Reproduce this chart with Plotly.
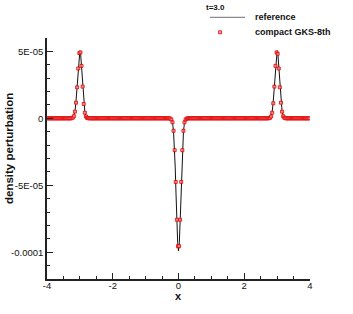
import numpy as np
import plotly.graph_objects as go

# ---------------- data ----------------
x_min, x_max = -4.0, 4.0
n_cells = 240                      # compact GKS grid (cell centres)
pulse_centres = [-3.0, 0.0, 3.0]

# compact GKS-8th values in the 16 cells around each pulse (left -> right)
gks_left_peak = [1e-7, 5e-7, 1.6e-6, 5.0e-6, 1.17e-5, 2.32e-5, 3.72e-5, 4.87e-5,
                 4.92e-5, 3.92e-5, 2.37e-5, 1.07e-5, 4.2e-6, 1.4e-6, 4e-7, 1e-7]
gks_centre_dip = [-2e-7, -9e-7, -3.0e-6, -9.3e-6, -2.38e-5, -4.75e-5, -7.57e-5, -9.55e-5,
                  -9.55e-5, -7.57e-5, -4.75e-5, -2.38e-5, -9.3e-6, -3.0e-6, -9e-7, -2e-7]
gks_right_peak = [1e-7, 4e-7, 1.4e-6, 4.2e-6, 1.12e-5, 2.37e-5, 3.92e-5, 4.92e-5,
                  4.82e-5, 3.72e-5, 2.32e-5, 1.17e-5, 5.0e-6, 1.6e-6, 5e-7, 1e-7]

# reference solution: offsets from each pulse centre and values there
ref_offsets = [-0.3, -0.25, -0.2, -0.175, -0.15, -0.125, -0.1, -0.075, -0.05, -0.025, 0.0,
               0.025, 0.05, 0.075, 0.1, 0.125, 0.15, 0.175, 0.2, 0.25, 0.3]
ref_peak = [0.0, 1e-7, 9e-7, 2.4e-6, 5.3e-6, 1.06e-5, 1.86e-5, 2.88e-5, 3.93e-5, 4.74e-5, 5.05e-5,
            4.74e-5, 3.93e-5, 2.88e-5, 1.86e-5, 1.06e-5, 5.3e-6, 2.4e-6, 9e-7, 1e-7, 0.0]
ref_dip = [0.0, -2e-7, -1.8e-6, -4.6e-6, -1.04e-5, -2.08e-5, -3.64e-5, -5.64e-5, -7.71e-5, -9.3e-5, -9.9e-5,
           -9.3e-5, -7.71e-5, -5.64e-5, -3.64e-5, -2.08e-5, -1.04e-5, -4.6e-6, -1.8e-6, -2e-7, 0.0]

y_tick_vals = [-1e-4, -5e-5, 0.0, 5e-5]
y_tick_text = ["-0.0001", "-5E-05", "0", "5E-05"]
x_tick_vals = [-4, -2, 0, 2, 4]
x_tick_text = ["-4", "-2", "0", "2", "4"]

legend_title = "t=3.0"
series_names = ["reference", "compact GKS-8th"]

# ---------------- assemble series ----------------
dx = (x_max - x_min) / n_cells
x_gks = x_min + dx * (np.arange(n_cells) + 0.5)
y_gks = np.zeros(n_cells)
for c, vals in zip(pulse_centres, [gks_left_peak, gks_centre_dip, gks_right_peak]):
    i_face = int(round((c - x_min) / dx))
    half = len(vals) // 2
    y_gks[i_face - half:i_face + half] = vals

x_ref = [x_min]
y_ref = [0.0]
for c, vals in zip(pulse_centres, [ref_peak, ref_dip, ref_peak]):
    x_ref += [c + o for o in ref_offsets]
    y_ref += list(vals)
x_ref.append(x_max)
y_ref.append(0.0)

FONT = "Liberation Sans, Arial, Helvetica, sans-serif"
W, H = 353, 314
# target plot area in window pixels: x 47..310, y 38..279
ML, MR, MT, MB = 47, W - 310, 38, H - 279
PW, PH = W - ML - MR, H - MT - MB


def px(xs):
    """window x pixel -> paper fraction"""
    return (xs - ML) / PW


def py(ys):
    """window y pixel -> paper fraction"""
    return (H - MB - ys) / PH


MARKER_FILL = "rgba(255,140,140,0.8)"
MARKER_EDGE = "#e00000"

fig = go.Figure()
fig.add_trace(go.Scatter(
    x=x_ref, y=y_ref, mode="lines", name=series_names[0],
    line=dict(color="#111111", width=1),
))
fig.add_trace(go.Scatter(
    x=x_gks, y=y_gks, mode="markers", name=series_names[1],
    marker=dict(symbol="square", size=3, color=MARKER_FILL,
                line=dict(color=MARKER_EDGE, width=0.8)),
))

axis_common = dict(
    showgrid=False, zeroline=False, showline=True, linecolor="#222222", linewidth=1.6,
    ticks="inside", ticklen=6, tickwidth=1.4, tickcolor="#222222",
    tickfont=dict(family=FONT, size=9.5, color="#111111"),
    mirror=False, automargin=False,
)

# legend drawn by hand (tight Tecplot-style spacing)
shapes = [
    dict(type="line", xref="paper", yref="paper", x0=px(210), x1=px(245), y0=py(17.3), y1=py(17.3),
         line=dict(color="#8a8a8a", width=1.2)),
    dict(type="rect", xref="paper", yref="paper", x0=px(218.6), x1=px(221.6), y0=py(30.8), y1=py(33.8),
         line=dict(color=MARKER_EDGE, width=0.8), fillcolor=MARKER_FILL),
]

annotations = [
    dict(text="<b>density perturbation</b>", textangle=-90, xref="paper", yref="paper",
         x=px(9), y=py(149), xanchor="center", yanchor="middle", showarrow=False,
         font=dict(family=FONT, size=11.5, color="#111111")),
    dict(text="<b>x</b>", xref="paper", yref="paper", x=0.5, y=py(296),
         xanchor="center", yanchor="middle", showarrow=False,
         font=dict(family=FONT, size=11, color="#111111")),
    dict(text="<b>" + legend_title + "</b>", xref="paper", yref="paper", x=px(204), y=py(7),
         xanchor="left", yanchor="middle", showarrow=False,
         font=dict(family=FONT, size=8, color="#111111")),
    dict(text="<b>" + series_names[0] + "</b>", xref="paper", yref="paper", x=px(253), y=py(17),
         xanchor="left", yanchor="middle", showarrow=False,
         font=dict(family=FONT, size=9, color="#111111")),
    dict(text="<b>" + series_names[1] + "</b>", xref="paper", yref="paper", x=px(253), y=py(31.7),
         xanchor="left", yanchor="middle", showarrow=False,
         font=dict(family=FONT, size=9, color="#111111")),
]

fig.update_layout(
    width=W, height=H,
    margin=dict(l=ML, r=MR, t=MT, b=MB, autoexpand=False),
    paper_bgcolor="white", plot_bgcolor="white",
    font=dict(family=FONT, color="#111111"),
    hovermode=False,
    xaxis=dict(range=[x_min, x_max], tickmode="array", tickvals=x_tick_vals, ticktext=x_tick_text,
               ticklabelstandoff=-3,
               minor=dict(dtick=0.5, tick0=0, ticks="inside", ticklen=3, tickwidth=1, tickcolor="#222222"),
               **axis_common),
    yaxis=dict(range=[-1.2e-4, 6e-5], tickmode="array", tickvals=y_tick_vals, ticktext=y_tick_text,
               minor=dict(dtick=1e-5, tick0=0, ticks="inside", ticklen=3, tickwidth=1, tickcolor="#222222"),
               **axis_common),
    showlegend=False,
    shapes=shapes,
    annotations=annotations,
)

# remove the browser's default 8 px body margin so the figure sits at the window corner
fig.write_html("out.html", config={"displayModeBar": False},
               post_script="document.body.style.margin='0px';")
